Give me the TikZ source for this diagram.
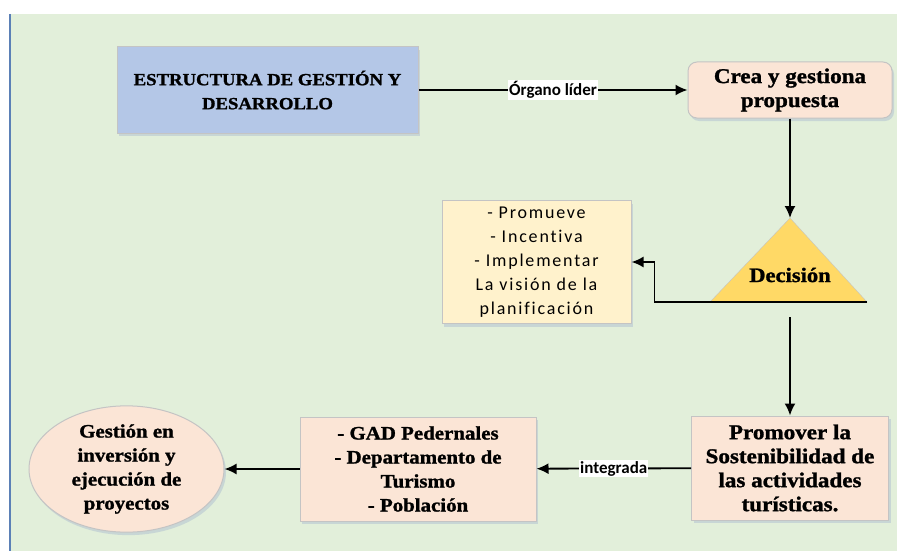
\documentclass[tikz,border=0pt]{standalone}
\usepackage{fontspec}
\setmainfont{Carlito}
\newfontfamily\boxfont[BoldFeatures={FakeBold=1.3,FakeStretch=1.1}]{Liberation Serif}
\newfontfamily\listfont[LetterSpace=10,Ligatures=NoCommon]{Carlito}
\usetikzlibrary{arrows.meta,shapes.geometric,shadows}
\definecolor{bggreen}{HTML}{E2EFDA}
\definecolor{edgeblue}{HTML}{5B80B6}
\definecolor{headblue}{HTML}{B4C7E7}
\definecolor{peach}{HTML}{FBE5D6}
\definecolor{paleyellow}{HTML}{FFF2CC}
\definecolor{gold}{HTML}{FFD966}
\definecolor{boxline}{HTML}{C4C4C4}
\definecolor{shadowblue}{HTML}{A9B9CF}
\tikzset{
  box/.style={draw=boxline,line width=1pt,align=center,inner sep=2pt,
    drop shadow={shadow xshift=2pt,shadow yshift=-3pt,fill=shadowblue,opacity=0.45}},
  boldtext/.style={font=\boxfont\bfseries\fontsize{#1}{24}\selectfont},
  boldtext/.default=19,
  listtext/.style={font=\listfont\fontsize{18}{24}\selectfont},
  flow/.style={->,line width=1.8pt},
  tag/.style={fill=white,inner sep=1pt,font=\bfseries\fontsize{17}{18}\selectfont}
}
\begin{document}
\begin{tikzpicture}[x=1pt,y=-1pt,>={Latex[length=12pt,width=11pt]}]
  \useasboundingbox (0,0) rectangle (897,551);
  \fill[bggreen] (9,14) rectangle (897,551);
  \draw[edgeblue,line width=1.5pt] (10,14) -- (10,551);
  \node[box,boldtext=17,fill=headblue,minimum width=301pt,minimum height=86pt] (org) at (267.5,90) {ESTRUCTURA DE GESTIÓN Y\\DESARROLLO};
  \node[box,boldtext=21,fill=peach,rounded corners=9pt,minimum width=204pt,minimum height=56pt] (crea) at (790,90) {Crea y gestiona\\propuesta};
  \coordinate (dtop) at (790,218);
  \coordinate (dleft) at (710,302);
  \coordinate (dright) at (867,302);
  \coordinate (dbase) at (790,317);
  \filldraw[fill=gold,draw=boxline] (dleft) -- (dtop) -- (dright) -- cycle;
  \node[boldtext=20.5] (dec) at (790,275) {Decisión};
  \node[box,listtext,fill=paleyellow,minimum width=189pt,minimum height=123pt] (plan) at (536.5,262) {- Promueve\\- Incentiva\\- Implementar\\La visión de la\\planificación};
  \node[box,boldtext=21,fill=peach,minimum width=197pt,minimum height=104pt] (prom) at (790,468) {Promover la\\Sostenibilidad de\\las actividades\\turísticas.};
  \node[box,boldtext,fill=peach,minimum width=236pt,minimum height=104pt] (gad) at (418,469) {- GAD Pedernales\\- Departamento de\\Turismo\\- Población};
  \node[box,boldtext,ellipse,fill=peach,minimum width=195pt,minimum height=104pt,inner sep=0pt] (gest) at (126.5,469) {Gestión en\\inversión y\\ejecución de\\proyectos};
  \draw[flow] (org) -- node[tag]{Órgano líder} (crea);
  \draw[flow] (crea) -- (dtop);
  \draw[flow] (dright) -| ([xshift=23pt]plan.east) -- (plan.east);
  \draw[flow] (dbase) -- (prom);
  \draw[flow] (prom) -- node[tag]{integrada} (gad);
  \draw[flow] (gad) -- (gest);
\end{tikzpicture}
\end{document}
